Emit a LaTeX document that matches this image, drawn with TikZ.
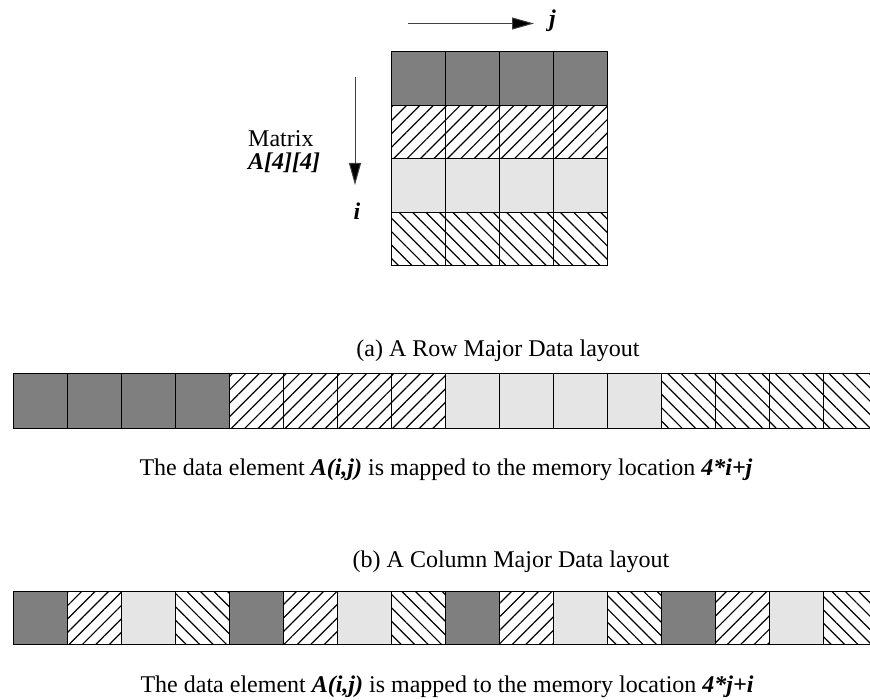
\documentclass[tikz,border=0pt]{standalone}
\usepackage{fontspec}
\setmainfont{Liberation Serif}
\usetikzlibrary{patterns.meta,arrows.meta}
\definecolor{darkfill}{HTML}{7F7F7F}
\definecolor{lightfill}{HTML}{E5E5E5}
\begin{document}
\begin{tikzpicture}[x=1pt,y=-1pt,
  cellbase/.style={draw=black, line width=1pt, inner sep=0pt, outer sep=0pt, anchor=north west, minimum width=54pt},
  kind0/.style={cellbase, fill=darkfill},
  kind1/.style={cellbase, pattern={Lines[angle=45,distance=9.5pt,line width=1.2pt]}},
  kind2/.style={cellbase, fill=lightfill},
  kind3/.style={cellbase, pattern={Lines[angle=-45,distance=9.5pt,line width=1.2pt]}},
  txt/.style={inner sep=0pt, font=\fontsize{24}{28}\selectfont},
  axisarrow/.style={draw=black!75, line width=1pt, -{Triangle[length=22pt,width=12pt,fill=black]}}
]
\useasboundingbox (0,0) rectangle (870,700);
\clip (0,0) rectangle (870,700);
% matrix
\foreach \r in {0,1,2,3}{
  \foreach \c in {0,1,2,3}{
    \node[kind\r, minimum height=53.5pt] (m-\r-\c) at ({391+54*\c},{52+53.5*\r}) {};
  }
}
% row major strip
\foreach \k in {0,...,15}{
  \pgfmathtruncatemacro{\t}{int(\k/4)}
  \node[kind\t, minimum height=54pt] (r-\k) at ({13+54*\k},374) {};
}
% column major strip
\foreach \k in {0,...,15}{
  \pgfmathtruncatemacro{\t}{mod(\k,4)}
  \node[kind\t, minimum height=53pt] (c-\k) at ({13+54*\k},591) {};
}
% arrows
\coordinate (js) at (408,23.5);
\coordinate (je) at (534,23.5);
\coordinate (is) at (355,77);
\coordinate (ie) at (355,185);
\draw[axisarrow] (js) -- (je);
\draw[axisarrow] (is) -- (ie);
\node[txt, anchor=base west] (jl) at (549,27) {\textbf{\textit{j}}};
\node[txt, anchor=base] (il) at (357,220) {\textbf{\textit{i}}};
\node[txt, anchor=base west] (mt) at (248,147) {Matrix};
\node[txt, anchor=base west] (ma) at (248,170) {\textbf{\textit{A[4][4]}}};
% captions
\node[txt, anchor=base] (capa) at (498,357) {(a) A Row Major Data layout};
\node[txt, anchor=base] (capb) at (511,567) {(b) A Column Major Data layout};
\node[txt, anchor=base] (ta) at (446,475) {The data element \textbf{\textit{A(i,j)}} is mapped to the memory location \textbf{\textit{4*i+j}}};
\node[txt, anchor=base] (tb) at (447,692) {The data element \textbf{\textit{A(i,j)}} is mapped to the memory location \textbf{\textit{4*j+i}}};
\end{tikzpicture}
\end{document}
